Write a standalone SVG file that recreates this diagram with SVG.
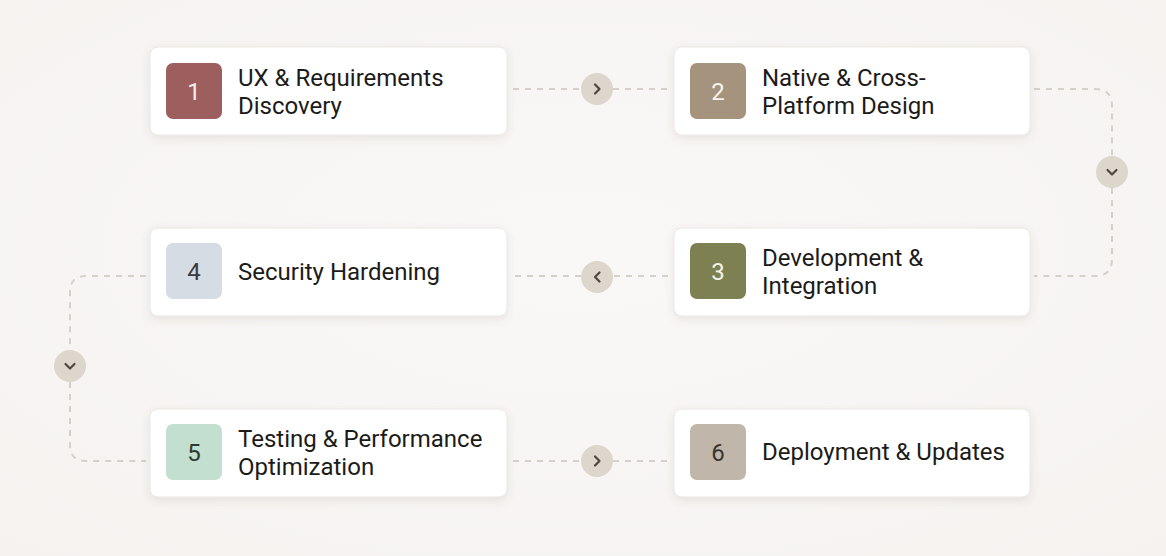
<svg xmlns="http://www.w3.org/2000/svg" width="1166" height="556" viewBox="0 0 1166 556">
<defs>
  <radialGradient id="bg" cx="50%" cy="45%" r="75%">
    <stop offset="0" stop-color="#faf8f7"/>
    <stop offset="1" stop-color="#f5f2f0"/>
  </radialGradient>
  <filter id="sh" x="-10%" y="-20%" width="120%" height="150%">
    <feDropShadow dx="0" dy="3" stdDeviation="4" flood-color="#6b5a4a" flood-opacity="0.12"/>
  </filter>
  <style>
    .card{fill:#ffffff;stroke:#ebe7e3;stroke-width:1;filter:url(#sh)}
    .lbl{font-family:Roboto,"Open Sans","Liberation Sans",sans-serif;font-size:24px;fill:#1c1b1a}
    .num{font-family:Roboto,"Open Sans","Liberation Sans",sans-serif;font-size:24px;text-anchor:middle}
    .dash{fill:none;stroke:#d6d0ca;stroke-width:2;stroke-dasharray:6 6}
    .hub{fill:#ddd6cc}
    .chev{fill:none;stroke:#4e4741;stroke-width:2.2;stroke-linecap:round;stroke-linejoin:round}
  </style>
</defs>
<rect width="1166" height="556" fill="url(#bg)"/>

<g id="connectors">
  <path class="dash" d="M513 89 H581"/>
  <path class="dash" d="M613 89 H668"/>
  <circle class="hub" cx="597" cy="89" r="16"/>
  <path class="chev" d="M595 84.5 L599.5 89 L595 93.5"/>

  <path class="dash" d="M1034 89 H1095 Q1112 89 1112 106 V156"/>
  <path class="dash" d="M1112 188 V259 Q1112 276 1095 276 H1034"/>
  <circle class="hub" cx="1112" cy="172" r="16"/>
  <path class="chev" d="M1107.5 170 L1112 174.5 L1116.5 170"/>

  <path class="dash" d="M668 276 H613"/>
  <path class="dash" d="M581 276 H513"/>
  <circle class="hub" cx="597" cy="277" r="16"/>
  <path class="chev" d="M599.5 272.5 L595 277 L599.5 281.5"/>

  <path class="dash" d="M146 276 H86 Q70 276 70 292 V350"/>
  <path class="dash" d="M70 382 V445 Q70 461 86 461 H146"/>
  <circle class="hub" cx="70" cy="366" r="16"/>
  <path class="chev" d="M65.5 364 L70 368.5 L74.5 364"/>

  <path class="dash" d="M513 461 H581"/>
  <path class="dash" d="M613 461 H668"/>
  <circle class="hub" cx="597" cy="461" r="16"/>
  <path class="chev" d="M595 456.5 L599.5 461 L595 465.5"/>
</g>

<g id="node1">
  <rect class="card" x="150" y="47" width="357" height="88" rx="8"/>
  <rect x="166" y="63" width="56" height="56" rx="7" fill="#9c5f5e"/>
  <text class="num" x="194" y="99.5" fill="#f6eeee">1</text>
  <text class="lbl" x="238" y="86">UX &amp; Requirements</text>
  <text class="lbl" x="238" y="114">Discovery</text>
</g>

<g id="node2">
  <rect class="card" x="674" y="47" width="356" height="88" rx="8"/>
  <rect x="690" y="63" width="56" height="56" rx="7" fill="#a5937d"/>
  <text class="num" x="718" y="99.5" fill="#f7f3ee">2</text>
  <text class="lbl" x="762" y="86">Native &amp; Cross-</text>
  <text class="lbl" x="762" y="114">Platform Design</text>
</g>

<g id="node3">
  <rect class="card" x="674" y="228" width="356" height="88" rx="8"/>
  <rect x="690" y="243" width="56" height="56" rx="7" fill="#7d8051"/>
  <text class="num" x="718" y="279.5" fill="#f3f3ea">3</text>
  <text class="lbl" x="762" y="266">Development &amp;</text>
  <text class="lbl" x="762" y="294">Integration</text>
</g>

<g id="node4">
  <rect class="card" x="150" y="228" width="357" height="88" rx="8"/>
  <rect x="166" y="243" width="56" height="56" rx="7" fill="#d6dce4"/>
  <text class="num" x="194" y="279.5" fill="#3a3b3d">4</text>
  <text class="lbl" x="238" y="280">Security Hardening</text>
</g>

<g id="node5">
  <rect class="card" x="150" y="409" width="357" height="88" rx="8"/>
  <rect x="166" y="424" width="56" height="56" rx="7" fill="#c3dfcf"/>
  <text class="num" x="194" y="460.5" fill="#2f3a33">5</text>
  <text class="lbl" x="238" y="447">Testing &amp; Performance</text>
  <text class="lbl" x="238" y="475">Optimization</text>
</g>

<g id="node6">
  <rect class="card" x="674" y="409" width="356" height="88" rx="8"/>
  <rect x="690" y="424" width="56" height="56" rx="7" fill="#c0b7aa"/>
  <text class="num" x="718" y="460.5" fill="#3a3430">6</text>
  <text class="lbl" x="762" y="460">Deployment &amp; Updates</text>
</g>
</svg>
